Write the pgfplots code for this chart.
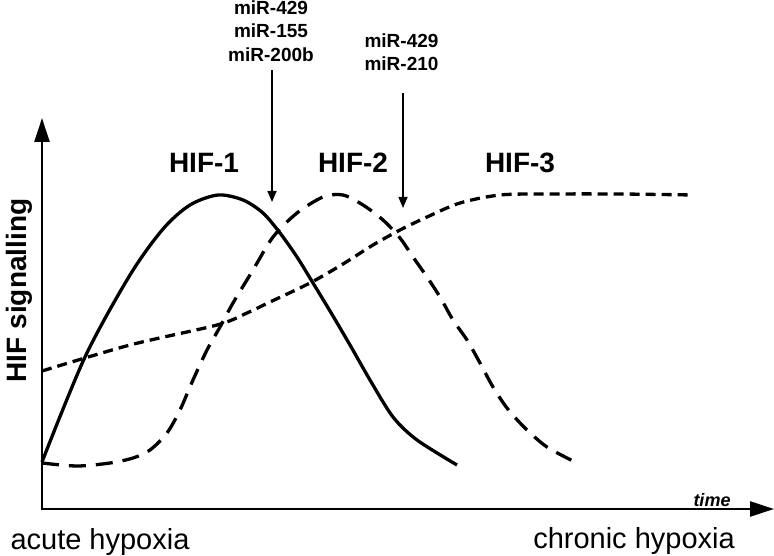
\documentclass[border=0pt]{standalone}
\usepackage{fontspec}
\setmainfont{Liberation Sans}
\usepackage{pgfplots}
\pgfplotsset{compat=1.18}
\usetikzlibrary{arrows.meta}

\begin{document}
\begin{tikzpicture}
\begin{axis}[name=ax, at={(0,0)}, anchor=south west,
    x=1pt, y=1pt, xmin=0, xmax=774, ymin=0, ymax=556,
    y dir=reverse, hide axis, clip=false]
  % HIF-1
  \addplot[black, line width=3.3pt, smooth] coordinates {
    (42,462) (85,357) (130,275) (163,229) (190,205) (218,195)
    (243,200) (263,213) (280,233) (297,257) (313,283) (330,311)
    (350,345) (370,380) (393,417) (417,440) (457,465)};
  % HIF-2
  \addplot[black, line width=3.3pt, smooth, dash pattern=on 17pt off 10pt] coordinates {
    (42,463) (77,466) (110,463) (133,458) (150,450) (167,433) (180,410)
    (193,380) (207,350) (220,327) (233,303) (253,270) (273,237) (297,213)
    (323,197) (343,195) (363,205) (383,220) (400,238) (413,257) (427,277)
    (440,297) (453,320) (467,340) (480,363) (493,387) (507,408) (525,428)
    (547,447) (577,463)};
  % HIF-3
  \addplot[black, line width=3.3pt, smooth, dash pattern=on 10pt off 6pt] coordinates {
    (42,371) (130,345) (217,325) (247,313) (270,302) (310,283) (343,264)
    (373,245) (400,230) (427,217) (460,203) (500,195) (547,194) (620,194)
    (693,195)};

  % axes
  \draw[line width=2.5pt, line join=miter,
        {Triangle[length=24pt,width=15pt]}-{Triangle[length=24pt,width=15pt]}]
    (axis cs:42,118) -- (axis cs:42,509) -- (axis cs:774,509);
  % miRNA arrows
  \draw[line width=1.5pt, -{Triangle[length=11pt,width=9pt]}]
    (axis cs:272,70) -- (axis cs:272,202);
  \draw[line width=1.5pt, -{Triangle[length=11pt,width=9pt]}]
    (axis cs:403,93) -- (axis cs:403,208);

  % labels
  \node[anchor=base, font=\fontsize{28}{30}\selectfont\bfseries] at (axis cs:204,173) {HIF-1};
  \node[anchor=base, font=\fontsize{28}{30}\selectfont\bfseries] at (axis cs:353,173) {HIF-2};
  \node[anchor=base, font=\fontsize{28}{30}\selectfont\bfseries] at (axis cs:520,173) {HIF-3};

  \node[anchor=base, font=\fontsize{19}{22}\selectfont\bfseries] at (axis cs:271,14.5) {miR-429};
  \node[anchor=base, font=\fontsize{19}{22}\selectfont\bfseries] at (axis cs:271,38) {miR-155};
  \node[anchor=base, font=\fontsize{19}{22}\selectfont\bfseries] at (axis cs:271,61.5) {miR-200b};
  \node[anchor=base, font=\fontsize{19}{22}\selectfont\bfseries] at (axis cs:401.5,47.5) {miR-429};
  \node[anchor=base, font=\fontsize{19}{22}\selectfont\bfseries] at (axis cs:401.5,70.5) {miR-210};

  \node[anchor=base, rotate=90, font=\fontsize{28}{30}\selectfont\bfseries] at (axis cs:26,290.5) {HIF signalling};
  \node[anchor=base, font=\fontsize{18}{21}\selectfont\bfseries\itshape] at (axis cs:712,506) {time};
  \node[anchor=base, font=\fontsize{29}{32}\selectfont] at (axis cs:100,549) {acute hypoxia};
  \node[anchor=base, font=\fontsize{29}{32}\selectfont] at (axis cs:634,548) {chronic hypoxia};
\end{axis}
\pgfresetboundingbox
\path (ax.south west) rectangle (ax.north east);
\end{tikzpicture}
\end{document}
